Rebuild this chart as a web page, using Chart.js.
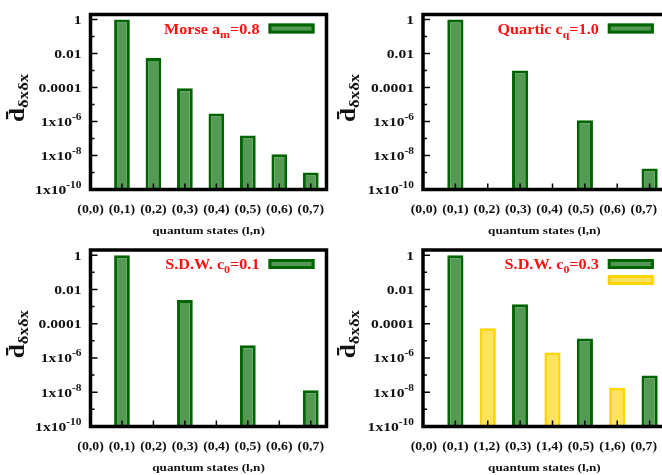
<!DOCTYPE html>
<html>
<head>
<meta charset="utf-8">
<script src="https://cdn.jsdelivr.net/npm/chart.js@4.4.1/dist/chart.umd.min.js"></script>
<style>
  html, body { margin: 0; padding: 0; background: #fff; overflow: hidden; }
  #wrap { position: relative; width: 662px; height: 475px; overflow: hidden; }
  canvas { position: absolute; }
</style>
</head>
<body>
<div id="wrap">
  <canvas id="c1" width="331" height="240" style="left:0;top:0"></canvas>
  <canvas id="c2" width="345" height="240" style="left:331px;top:0"></canvas>
  <canvas id="c3" width="331" height="240" style="left:0;top:235px"></canvas>
  <canvas id="c4" width="345" height="240" style="left:331px;top:235px"></canvas>
</div>
<script>
// ---- data ----
const xPos = [0, 1, 2, 3, 4, 5, 6, 7];
const xLabels = ["(0,0)", "(0,1)", "(0,2)", "(0,3)", "(0,4)", "(0,5)", "(0,6)", "(0,7)"];
const xLabelsSdw3 = ["(0,0)", "(0,1)", "(1,2)", "(0,3)", "(1,4)", "(0,5)", "(1,6)", "(0,7)"];

const morseVals   = [null, 1, 5.5e-3, 9e-5, 3e-6, 1.5e-7, 1.2e-8, 1e-9];
const quarticVals = [null, 1, null, 1e-3, null, 1.2e-6, null, 1.7e-9];
const sdw1Vals    = [null, 1, null, 2.4e-3, null, 5.5e-6, null, 1.3e-8];
const sdw3Green   = [null, 1, null, 1.35e-3, null, 1.35e-5, null, 9.6e-8];
const sdw3Yellow  = [null, null, 5.4e-5, null, 2.1e-6, null, 1.8e-8, null];

const yTicks = [1, 0.01, 1e-4, 1e-6, 1e-8, 1e-10];
const yTickText = [["1", ""], ["0.01", ""], ["0.0001", ""], ["1x10", "-6"], ["1x10", "-8"], ["1x10", "-10"]];
const yMinor = [0.1, 1e-3, 1e-5, 1e-7, 1e-9];

// ---- styles ----
const FONT = '"Liberation Serif", "Times New Roman", serif';
const SX = 1.2; // gnuplot text looks stretched sideways
const GREEN = { fill: "#549a54", border: "#006400" };
const YELLOW = { fill: "#ffe35c", border: "#ffd500" };

function toPts(vals) {
  return vals.map((v, i) => ({ x: xPos[i], y: v }));
}

// draw text made of pieces (for sub/superscripts)
function drawParts(ctx, parts, x, y, align, sx) {
  sx = sx || SX;
  let total = 0;
  parts.forEach(p => {
    ctx.font = "bold " + p.size + "px " + FONT;
    p.w = ctx.measureText(p.t).width * sx;
    total += p.w;
  });
  let cx = align === "right" ? x - total : align === "center" ? x - total / 2 : x;
  parts.forEach(p => {
    ctx.font = "bold " + p.size + "px " + FONT;
    ctx.save();
    ctx.translate(cx, y + (p.dy || 0));
    ctx.scale(sx, 1);
    ctx.fillText(p.t, 0, 0);
    ctx.restore();
    cx += p.w;
  });
  return total;
}

const decoPlugin = {
  id: "deco",
  afterDraw(chart, args, opts) {
    const ctx = chart.ctx;
    const a = chart.chartArea;
    const xs = chart.scales.x, ys = chart.scales.y;
    ctx.save();
    ctx.textBaseline = "alphabetic";
    ctx.fillStyle = "#111";

    // y tick labels
    yTicks.forEach((v, i) => {
      const py = ys.getPixelForValue(v);
      const t = yTickText[i];
      const parts = [{ t: t[0], size: 13 }];
      if (t[1]) parts.push({ t: t[1], size: 9.5, dy: -6 });
      drawParts(ctx, parts, a.left - 9, py + 4.5, "right");
    });

    // x tick labels (right-hand panels squeeze them a little, like the original)
    const x1 = xs.getPixelForValue(1);
    opts.labels.forEach((lab, i) => {
      const px = xs.getPixelForValue(xPos[i]);
      const lx = x1 + (px - x1) * opts.squeeze;
      drawParts(ctx, [{ t: lab, size: 11.5 }], lx, a.bottom + 23.5, "center");
    });

    // x title
    drawParts(ctx, [{ t: "quantum states (l,n)", size: 11 }], (a.left + a.right) / 2, a.bottom + 44, "center");

    // y title, rotated
    ctx.save();
    ctx.translate(24, a.top + (a.bottom - a.top) / 2 + 20);
    ctx.rotate(-Math.PI / 2);
    const wd = drawParts(ctx, [{ t: "d", size: 21 }], 0, 0, "left");
    ctx.fillRect(wd * 0.2, -18, wd * 0.55, 2.2);
    drawParts(ctx, [{ t: "\u03b4x\u03b4x", size: 14 }], wd, 4, "left");
    ctx.restore();

    // ticks inside the frame
    ctx.strokeStyle = "#000";
    ctx.lineWidth = 1.5;
    ctx.beginPath();
    yTicks.forEach(v => {
      const py = ys.getPixelForValue(v);
      ctx.moveTo(a.left, py); ctx.lineTo(a.left + 7, py);
    });
    yMinor.forEach(v => {
      const py = ys.getPixelForValue(v);
      ctx.moveTo(a.left, py); ctx.lineTo(a.left + 4, py);
    });
    xPos.forEach(v => {
      const px = xs.getPixelForValue(v);
      ctx.moveTo(px, a.bottom); ctx.lineTo(px, a.bottom - 6);
    });
    ctx.stroke();

    // frame
    ctx.lineWidth = 3.5;
    ctx.strokeRect(a.left, a.top, a.right - a.left, a.bottom - a.top);

    // legend
    const sx = a.right - 12 - 46;
    opts.samples.forEach((s, i) => {
      const sy = a.top + 9 + i * 16;
      ctx.fillStyle = s.fill;
      ctx.fillRect(sx, sy, 46, 10);
      ctx.strokeStyle = s.border;
      ctx.lineWidth = 3;
      ctx.strokeRect(sx + 1.5, sy + 1.5, 43, 7);
    });
    ctx.fillStyle = "#ff1010";
    drawParts(ctx, opts.title, sx - 9, a.top + 19, "right", 1.08);
    ctx.restore();
  }
};

function makePanel(id, pad, labels, datasets, title, samples, squeeze) {
  new Chart(document.getElementById(id), {
    type: "bar",
    data: {
      datasets: datasets.map(d => ({
        data: toPts(d.vals),
        backgroundColor: d.style.fill,
        borderColor: d.style.border,
        borderWidth: 3,
        categoryPercentage: 0.5,
        barPercentage: 1,
        grouped: false
      }))
    },
    options: {
      responsive: false,
      animation: false,
      devicePixelRatio: 1,
      layout: { padding: pad },
      scales: {
        x: { type: "linear", min: 0, max: 7.5, offset: false, display: false,
             grid: { offset: false },
             ticks: { stepSize: 1, includeBounds: false } },
        y: { type: "logarithmic", min: 1e-10, max: 2, display: false }
      },
      plugins: {
        legend: { display: false },
        tooltip: { enabled: false },
        deco: { labels: labels, title: title, samples: samples, squeeze: squeeze }
      }
    },
    plugins: [decoPlugin]
  });
}

const padL = { left: 90.5, top: 14.5, right: 4.5, bottom: 50.5 };
const padR = { left: 92, top: 14.5, right: 10.2, bottom: 50.5 };
const padBL = { left: 90.5, top: 15, right: 4.5, bottom: 48.5 };
const padBR = { left: 92, top: 15, right: 10.2, bottom: 48.5 };

makePanel("c1", padL, xLabels, [{ vals: morseVals, style: GREEN }],
  [{ t: "Morse a", size: 15 }, { t: "m", size: 11, dy: 4 }, { t: "=0.8", size: 15 }], [GREEN], 1);
makePanel("c2", padR, xLabels, [{ vals: quarticVals, style: GREEN }],
  [{ t: "Quartic c", size: 15 }, { t: "q", size: 11, dy: 4 }, { t: "=1.0", size: 15 }], [GREEN], 0.97);
makePanel("c3", padBL, xLabels, [{ vals: sdw1Vals, style: GREEN }],
  [{ t: "S.D.W. c", size: 15 }, { t: "0", size: 11, dy: 4 }, { t: "=0.1", size: 15 }], [GREEN], 1);
makePanel("c4", padBR, xLabelsSdw3, [{ vals: sdw3Green, style: GREEN }, { vals: sdw3Yellow, style: YELLOW }],
  [{ t: "S.D.W. c", size: 15 }, { t: "0", size: 11, dy: 4 }, { t: "=0.3", size: 15 }], [GREEN, YELLOW], 0.97);
</script>
</body>
</html>
